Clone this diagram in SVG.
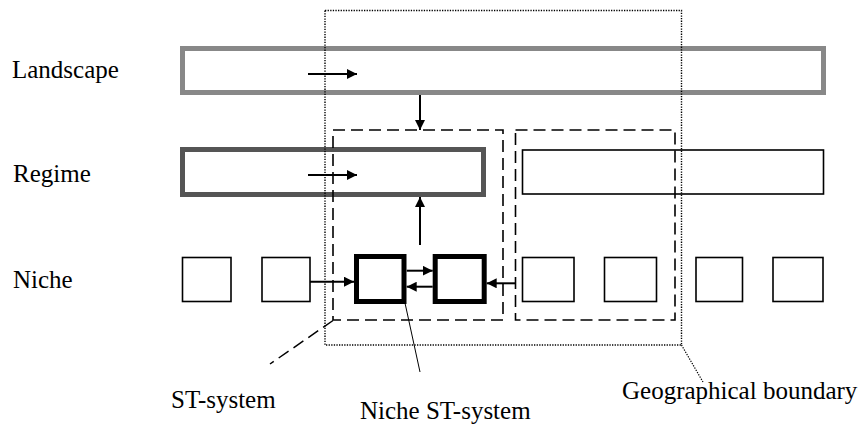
<svg xmlns="http://www.w3.org/2000/svg" width="862" height="425" viewBox="0 0 862 425">
<style>
text{font-family:"Liberation Serif","Times New Roman",serif;font-size:25px;fill:#000}
.sq{fill:#fff;stroke:#000;stroke-width:1.6}
.thick{fill:#fff;stroke:#000;stroke-width:5}
.dash{fill:none;stroke:#000;stroke-width:1.6;stroke-dasharray:12,6}
.dot{fill:none;stroke:#000;stroke-width:1.4;stroke-dasharray:1.3,1.3}
.arr{stroke:#000;stroke-width:2;fill:none;marker-end:url(#ah)}
</style>
<defs>
<marker id="ah" markerUnits="userSpaceOnUse" markerWidth="11" markerHeight="10" refX="10" refY="5" orient="auto">
<path d="M0,0 L10,5 L0,10 Z" fill="#000"/>
</marker>
</defs>
<g id="labels">
<text x="12" y="78">Landscape</text>
<text x="13" y="182">Regime</text>
<text x="13" y="288">Niche</text>
</g>
<g id="landscape"><rect x="182.5" y="48.5" width="641" height="44" fill="#fff" stroke="#888" stroke-width="5"/></g>
<g id="regime"><rect x="182.5" y="149.5" width="301" height="45" fill="#fff" stroke="#555" stroke-width="5"/></g>
<g id="regime2"><rect x="522.5" y="150" width="301" height="44" class="sq"/></g>
<g id="niche1"><rect x="182.5" y="257.5" width="48.5" height="44" class="sq"/></g>
<g id="niche2"><rect x="262" y="257.5" width="48" height="44" class="sq"/></g>
<g id="nicheST1"><rect x="356.5" y="256.5" width="47.5" height="45" class="thick"/></g>
<g id="nicheST2"><rect x="435.2" y="256.5" width="49" height="45" class="thick"/></g>
<g id="niche3"><rect x="522.5" y="257.5" width="51.5" height="44" class="sq"/></g>
<g id="niche4"><rect x="604.5" y="257.5" width="52" height="44" class="sq"/></g>
<g id="niche5"><rect x="696" y="257.5" width="46.5" height="44" class="sq"/></g>
<g id="niche6"><rect x="773" y="257.5" width="50" height="44" class="sq"/></g>
<g id="st-system-left"><rect x="333" y="130" width="170" height="190" class="dash"/></g>
<g id="st-system-right"><rect x="515.5" y="130" width="159.5" height="190" class="dash"/></g>
<g id="geo-boundary"><rect x="325" y="10.5" width="356.5" height="334.5" class="dot"/></g>
<g id="connectors">
<line x1="308" y1="74" x2="357" y2="74" class="arr"/>
<line x1="308" y1="175" x2="357" y2="175" class="arr"/>
<line x1="420" y1="95" x2="420" y2="130" class="arr"/>
<line x1="420" y1="245" x2="420" y2="197" class="arr"/>
<line x1="310" y1="281.7" x2="354" y2="281.7" class="arr"/>
<line x1="406.7" y1="270.7" x2="432.7" y2="270.7" class="arr"/>
<line x1="432.7" y1="286.7" x2="406.7" y2="286.7" class="arr"/>
<line x1="516" y1="283.3" x2="486.7" y2="283.3" class="arr"/>
<line x1="333" y1="320.5" x2="270" y2="364" stroke="#000" stroke-width="1.5" stroke-dasharray="12,6"/>
<line x1="405" y1="303" x2="420" y2="372" stroke="#000" stroke-width="1"/>
<line x1="681.5" y1="345" x2="703" y2="382" stroke="#000" stroke-width="1.2" stroke-dasharray="1.3,1.3"/>
</g>
<g id="callouts">
<text x="171" y="408">ST-system</text>
<text x="360" y="419">Niche ST-system</text>
<text x="622" y="399">Geographical boundary</text>
</g>
</svg>
